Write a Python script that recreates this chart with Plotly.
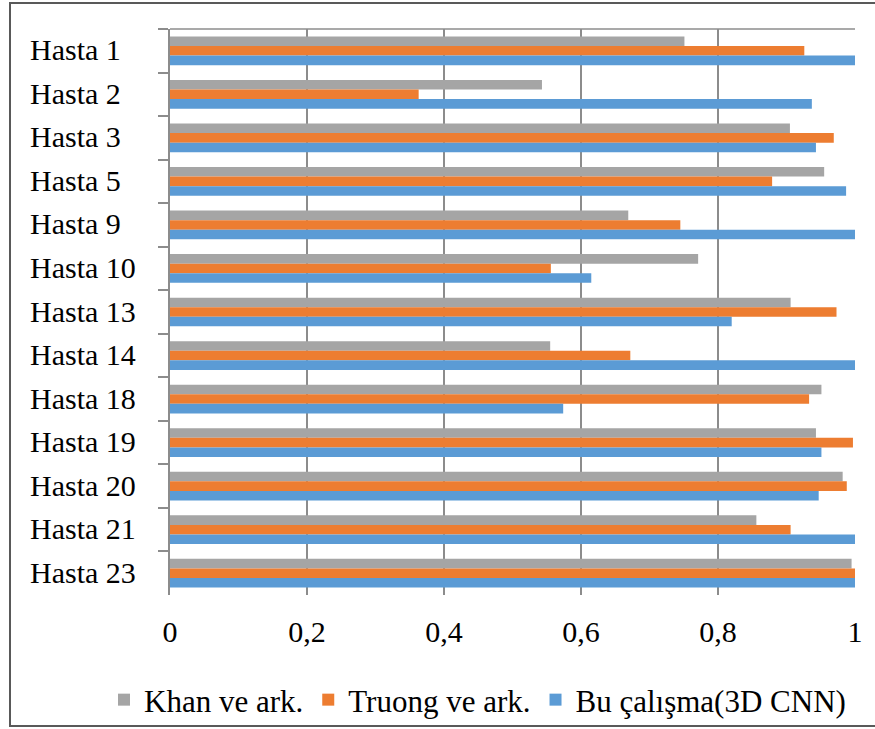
import plotly.graph_objects as go

# Patient categories (top to bottom)
patients = ["Hasta 1", "Hasta 2", "Hasta 3", "Hasta 5", "Hasta 9", "Hasta 10",
            "Hasta 13", "Hasta 14", "Hasta 18", "Hasta 19", "Hasta 20",
            "Hasta 21", "Hasta 23"]

# Scores per method
khan = [0.751, 0.543, 0.905, 0.955, 0.669, 0.771, 0.906, 0.555, 0.951,
        0.943, 0.982, 0.856, 0.995]
truong = [0.926, 0.363, 0.969, 0.879, 0.745, 0.556, 0.973, 0.672, 0.933,
          0.997, 0.988, 0.906, 1.0]
bu_calisma = [1.0, 0.937, 0.943, 0.987, 1.0, 0.615, 0.82, 1.0, 0.574,
              0.951, 0.947, 1.0, 1.0]

series_names = ["Khan ve ark.", "Truong ve ark.", "Bu çalışma(3D CNN)"]
series_colors = ["#A5A5A5", "#ED7D31", "#5B9BD5"]

x_ticks = [0, 0.2, 0.4, 0.6, 0.8, 1]
x_tick_text = ["0", "0,2", "0,4", "0,6", "0,8", "1"]

FONT = "Liberation Serif, Times New Roman, serif"

W, H = 875, 729
L, R, T, B = 170, 20, 29, 134
plot_w = W - L - R
plot_h = H - T - B


def px_to_paper_x(px):
    return (px - L) / plot_w


def px_to_paper_y(py):
    return (H - B - py) / plot_h


fig = go.Figure()
for name, vals, col in zip(series_names, [khan, truong, bu_calisma], series_colors):
    fig.add_trace(go.Bar(
        y=patients, x=vals, name=name, orientation="h",
        marker=dict(color=col, line=dict(width=0)),
    ))

# Category labels, left-aligned
for p in patients:
    fig.add_annotation(
        x=px_to_paper_x(28), xref="paper", y=p, yref="y",
        text=p, showarrow=False, xanchor="left", yanchor="middle",
        yshift=1,
        font=dict(family=FONT, size=30, color="#000000"),
    )

# Top edge of the plot area
fig.add_shape(type="line", xref="paper", yref="paper",
              x0=0, x1=1, y0=1, y1=1,
              line=dict(color="#8C8C8C", width=1.5))

# Chart frame
fig.add_shape(type="rect", xref="paper", yref="paper",
              x0=px_to_paper_x(10), x1=px_to_paper_x(890),
              y0=px_to_paper_y(726), y1=px_to_paper_y(3),
              line=dict(color="#595959", width=2), fillcolor="rgba(0,0,0,0)",
              layer="above")

fig.update_layout(
    width=W, height=H,
    margin=dict(l=L, r=R, t=T, b=B, pad=0, autoexpand=False),
    paper_bgcolor="white", plot_bgcolor="white",
    barmode="group", bargap=0.34, bargroupgap=0,
    font=dict(family=FONT, size=30, color="#000000"),
    showlegend=True,
    legend=dict(
        orientation="h",
        x=px_to_paper_x(104), xanchor="left",
        y=px_to_paper_y(700), yanchor="middle",
        font=dict(family=FONT, size=31, color="#000000"),
        itemwidth=30, tracegroupgap=0, traceorder="normal",
        bgcolor="rgba(0,0,0,0)",
    ),
    xaxis=dict(
        range=[0, 1], tickvals=x_ticks, ticktext=x_tick_text,
        showgrid=True, gridcolor="#8C8C8C", gridwidth=1.5,
        zeroline=False, showline=False, ticks="",
        ticklabelstandoff=16,
        tickfont=dict(family=FONT, size=30, color="#000000"),
        fixedrange=True,
    ),
    yaxis=dict(
        type="category", autorange="reversed",
        showticklabels=False, showgrid=False, zeroline=False,
        showline=True, linecolor="#8C8C8C", linewidth=1.5,
        ticks="outside", ticklen=10, tickcolor="#8C8C8C", tickwidth=1.5,
        tickson="boundaries",
        fixedrange=True,
    ),
)

fig.write_html("out.html")
